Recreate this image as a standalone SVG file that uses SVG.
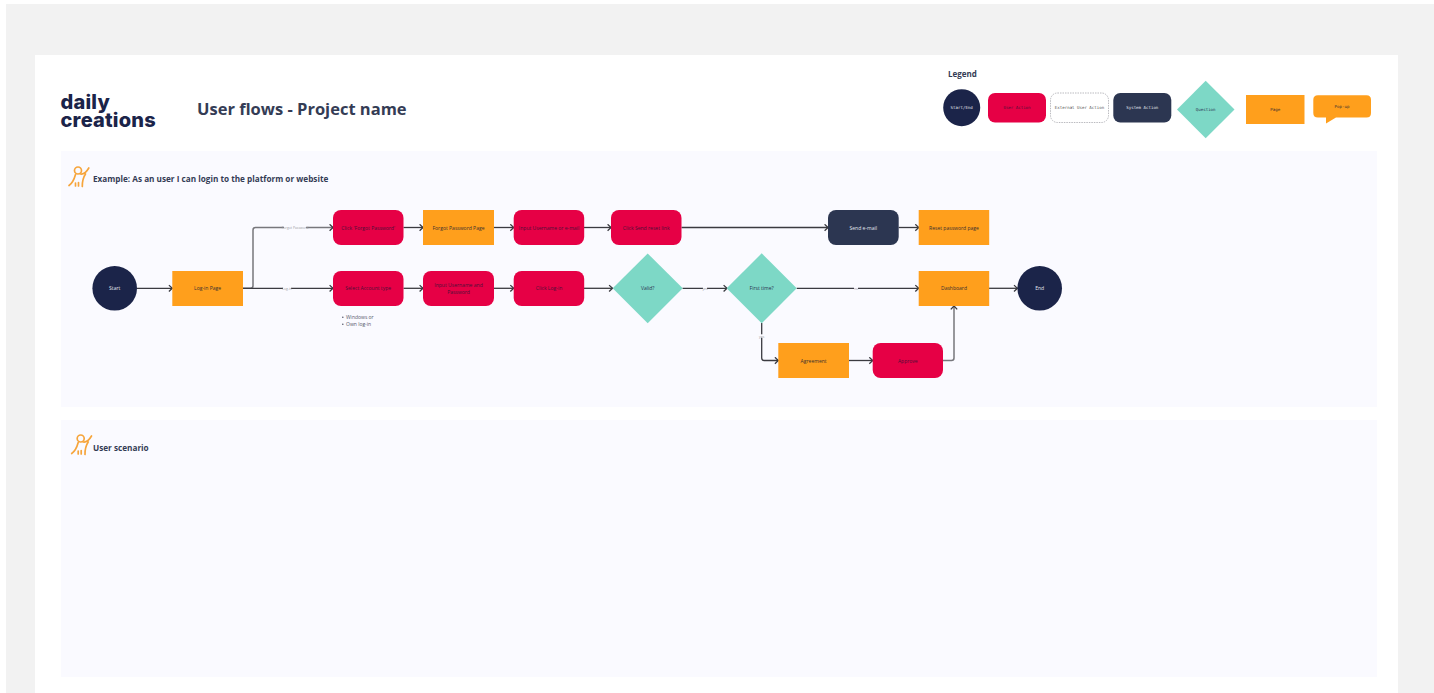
<svg xmlns="http://www.w3.org/2000/svg" width="1434" height="693" viewBox="0 0 1434 693">
<style>
text{font-family:"Open Sans","Liberation Sans",sans-serif}
.n{font-size:5.050px;text-anchor:middle;dominant-baseline:central}
.d{fill:#3a3030}.r{fill:#4c1038}.w{fill:#e4e6ee}.t{fill:#2a3350}
.m{font-family:"DejaVu Sans Mono","Liberation Mono",monospace;font-size:4.100px;text-anchor:middle;dominant-baseline:central}
.h{font-weight:700;fill:#343c55}
.red{fill:#e60045}.org{fill:#ff9f1c}.nav{fill:#1b2449}.sys{fill:#2c3651}.teal{fill:#7dd8c6}
.c{fill:none;stroke:#3a3a40;stroke-width:1.300;marker-end:url(#a)}
.g{stroke:#77777c;stroke-width:1.500}
.el{font-size:3.400px;fill:#9a9aa2;text-anchor:middle;dominant-baseline:central}
.lb{fill:#fafaff}
.ic{fill:none;stroke:#f6a53c;stroke-width:1.700;stroke-linecap:round;stroke-linejoin:round}
.li{font-size:5px;fill:#55586a}
.logo{font-family:Inter,"Liberation Sans",sans-serif;font-weight:800;font-size:20px;letter-spacing:.2px;fill:#1b2449}
</style>
<defs>
<marker id="a" markerWidth="7" markerHeight="8" refX="5.200" refY="4" orient="auto" markerUnits="userSpaceOnUse"><path d="M1.800 .8L5.200 4L1.800 7.200" fill="none" stroke="#3a3a40" stroke-width="1.300"/></marker>
<g id="icon">
<circle class="ic" cx="78" cy="170.500" r="3.500"/>
<path class="ic" d="M69 185.500C72 183.500 74 180 75.500 174.500M80.500 174C83.500 174.500 86.500 172 88.800 168M85.500 174C83.500 177 82.200 181.500 82.300 186.500M75.500 183L75.500 186M78.500 182.500L78.500 186"/>
</g>
</defs>
<rect width="1434" height="693" fill="#fff"/>
<rect x="6" y="4" width="1428" height="689" fill="#f2f2f2"/>
<rect x="35" y="55" width="1363" height="638" fill="#fff"/>
<rect x="61" y="151" width="1316" height="256" fill="#fafaff"/>
<rect x="61" y="420" width="1316" height="257" fill="#fafaff"/>

<g id="header">
<text class="logo"><tspan x="60.500" y="108.500">daily</tspan><tspan x="60.500" y="126.500">creations</tspan></text>
<text x="197" y="114.500" class="h" style="font-size:16.500px" fill="#2c3651">User flows - Project name</text>
</g>

<g id="legend">
<text x="948" y="76.500" class="h" style="font-size:8px">Legend</text>
<g id="legend-start"><circle class="nav" cx="961.700" cy="107.700" r="18.500"/><text class="m w" x="961.700" y="107.700">Start/End</text></g>
<g id="legend-user"><rect class="red" x="988" y="93" width="58" height="29.500" rx="7"/><text class="m r" x="1017" y="107.700">User Action</text></g>
<g id="legend-external"><rect x="1050.500" y="93" width="58" height="29.500" rx="7" fill="#fff" stroke="#a8a8ae" stroke-width=".8" stroke-dasharray="1.500 1"/><text class="m" fill="#555" x="1079.500" y="107.700">External User Action</text></g>
<g id="legend-system"><rect class="sys" x="1113.300" y="93" width="58" height="29.500" rx="7"/><text class="m w" x="1142.300" y="107.700">System Action</text></g>
<g id="legend-question"><path class="teal" d="M1205.700 80.700L1234.500 109.500L1205.700 138.300L1177 109.500Z"/><text class="m t" x="1205.700" y="109.700">Question</text></g>
<g id="legend-page"><rect class="org" x="1246" y="95" width="58.500" height="29"/><text class="m d" x="1275.200" y="109.700">Page</text></g>
<g id="legend-popup"><path class="org" d="M1318 95.300H1366.500Q1371 95.300 1371 99.800V113Q1371 117.500 1366.500 117.500H1336L1326 123.500V117.500H1318Q1313.300 117.500 1313.300 113V99.800Q1313.300 95.300 1318 95.300Z"/><text class="m d" x="1342" y="106.700">Pop-up</text></g>
</g>

<g id="example-heading"><use href="#icon"/><text x="93" y="181.500" class="h" style="font-size:8.200px">Example: As an user I can login to the platform or website</text></g>
<g id="scenario-heading"><use href="#icon" transform="translate(2.700 268)"/><text x="93" y="450.500" class="h" style="font-size:8.200px">User scenario</text></g>

<g id="connectors">
<path class="c" d="M137 288.300H172.300"/>
<path class="c g" d="M243 288.300H250.500Q253 288.300 253 285.800V230Q253 227.500 255.500 227.500H333"/>
<path class="c" d="M243 288.300H333"/>
<path class="c" d="M403.500 227.500H423"/>
<path class="c" d="M403.500 288.300H423"/>
<path class="c" d="M494 227.500H513.700"/>
<path class="c" d="M494 288.300H513.700"/>
<path class="c" d="M584 227.500H611"/>
<path class="c" d="M584 288.300H612.500"/>
<path class="c" d="M681.500 227.500H828"/>
<path class="c" d="M682.500 288.300H727"/>
<path class="c" d="M796.700 288.300H918.700"/>
<path class="c" d="M898.700 227.500H918.700"/>
<path class="c" d="M989 288.300H1017.400"/>
<path class="c" d="M761.700 323V358Q761.700 360.500 764.200 360.500H778.300"/>
<path class="c" d="M849 360.500H872.700"/>
<path class="c g" d="M943 360.500H951.500Q954 360.500 954 358V306"/>
<rect class="lb" x="284" y="225.800" width="22" height="3.400"/><text class="el" x="295" y="227.500">Forgot Password</text>
<rect class="lb" x="283" y="286.600" width="8" height="3.400"/><text class="el" x="287" y="288.300">Log-in</text>
<rect class="lb" x="703" y="286.600" width="4" height="3.400"/><text class="el" x="705" y="288.300">yes</text>
<rect class="lb" x="854" y="286.600" width="4" height="3.400"/><text class="el" x="856" y="288.300">no</text>
<rect class="lb" x="759.700" y="334.300" width="4" height="3.400"/><text class="el" x="761.700" y="336">yes</text>
</g>

<g id="start"><circle class="nav" cx="114.700" cy="288.300" r="22.300"/><text class="n w" x="114.700" y="288.300">Start</text></g>
<g id="login-page"><rect class="org" x="172.300" y="271" width="70.700" height="35"/><text class="n d" x="207.600" y="288.300">Log-in Page</text></g>
<g id="click-forgot"><rect class="red" x="333" y="210" width="70.500" height="35" rx="8"/><text class="n r" x="368.200" y="227.500">Click 'Forgot Password'</text></g>
<g id="select-account"><rect class="red" x="333" y="271" width="70.500" height="35" rx="8"/><text class="n r" x="368.200" y="288.300">Select Account type</text></g>
<g id="list"><circle cx="342.800" cy="317.300" r=".8" fill="#55586a"/><circle cx="342.800" cy="324.300" r=".8" fill="#55586a"/><text class="li" x="346" y="319">Windows or</text><text class="li" x="346" y="326">Own log-in</text></g>
<g id="forgot-page"><rect class="org" x="423" y="210" width="71" height="35"/><text class="n d" x="458.500" y="227.500">Forgot Password Page</text></g>
<g id="input-credentials"><rect class="red" x="423" y="271" width="71" height="35" rx="8"/><text class="n r" x="458.500" y="285">Input Username and</text><text class="n r" x="458.500" y="292">Password</text></g>
<g id="input-email"><rect class="red" x="513.700" y="210" width="70.500" height="35" rx="8"/><text class="n r" x="549" y="227.500">Input Username or e-mail</text></g>
<g id="click-login"><rect class="red" x="513.700" y="271" width="70.500" height="35" rx="8"/><text class="n r" x="549" y="288.300">Click Log-in</text></g>
<g id="click-send"><rect class="red" x="611" y="210" width="70.500" height="35" rx="8"/><text class="n r" x="646.200" y="227.500">Click Send reset link</text></g>
<g id="valid"><path class="teal" d="M647.700 253.500L682.700 288.300L647.700 323.300L612.700 288.300Z"/><text class="n t" x="647.700" y="288.300">Valid?</text></g>
<g id="first-time"><path class="teal" d="M761.700 253.300L796.700 288.300L761.700 323.300L726.700 288.300Z"/><text class="n t" x="761.700" y="288.300">First time?</text></g>
<g id="send-email"><rect class="sys" x="828" y="210" width="70.700" height="35" rx="8"/><text class="n w" x="863.300" y="227.500">Send e-mail</text></g>
<g id="reset-page"><rect class="org" x="918.700" y="210" width="70.500" height="35"/><text class="n d" x="954" y="227.500">Reset password page</text></g>
<g id="dashboard"><rect class="org" x="918.700" y="271" width="70.500" height="35"/><text class="n d" x="954" y="288.300">Dashboard</text></g>
<g id="end"><circle class="nav" cx="1039.700" cy="288.300" r="22.300"/><text class="n w" x="1039.700" y="288.300">End</text></g>
<g id="agreement"><rect class="org" x="778.300" y="343" width="70.700" height="35"/><text class="n d" x="813.600" y="360.500">Agreement</text></g>
<g id="approve"><rect class="red" x="872.700" y="343" width="70.300" height="35" rx="8"/><text class="n r" x="907.800" y="360.500">Approve</text></g>
</svg>
